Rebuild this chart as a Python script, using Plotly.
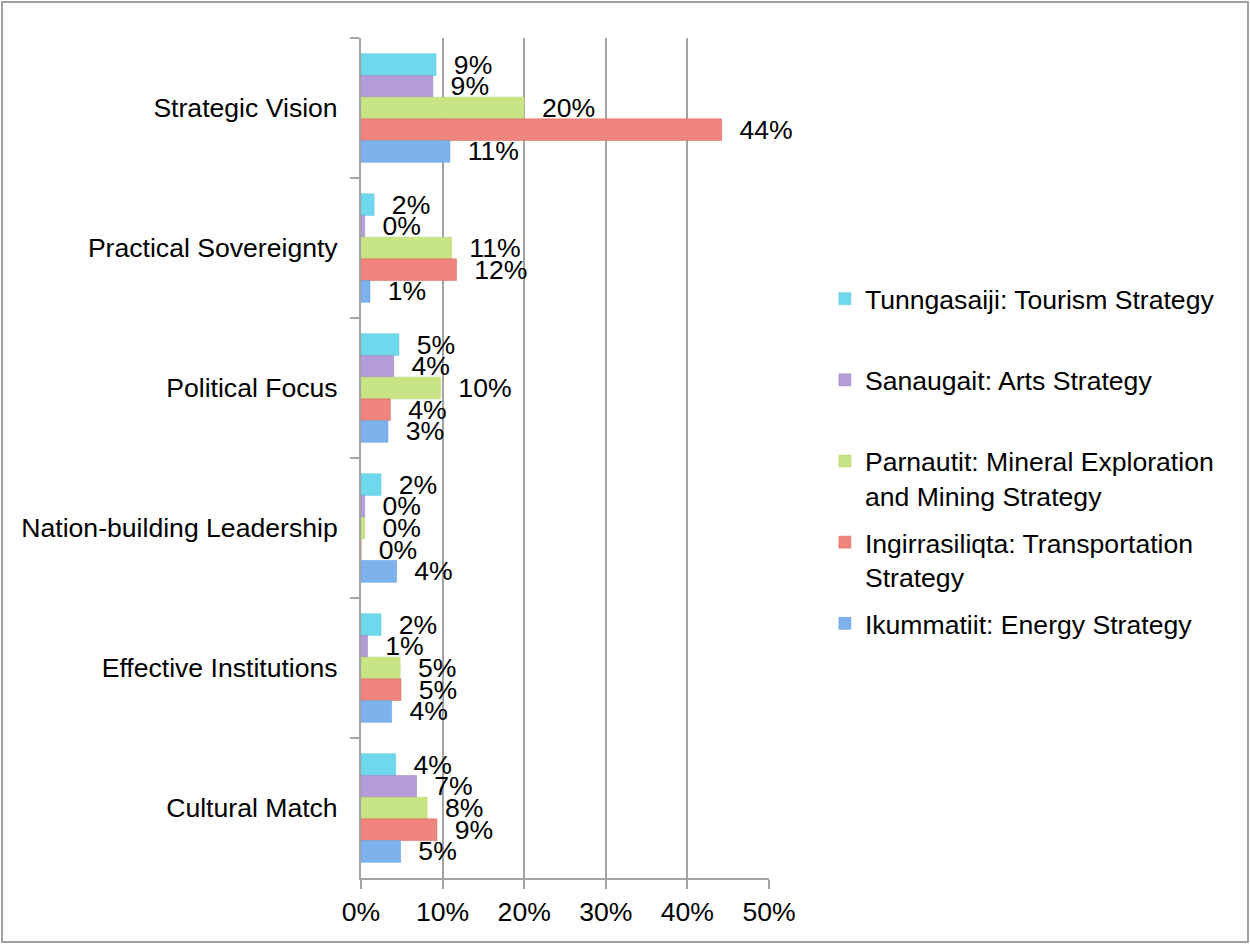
import plotly.graph_objects as go

categories = ["Strategic Vision", "Practical Sovereignty", "Political Focus",
              "Nation-building Leadership", "Effective Institutions", "Cultural Match"]

series_names = [
    "Tunngasaiji: Tourism Strategy",
    "Sanaugait: Arts Strategy",
    "Parnautit: Mineral Exploration<br>and Mining Strategy",
    "Ingirrasiliqta: Transportation<br>Strategy",
    "Ikummatiit: Energy Strategy",
]

tourism = [9.2, 1.6, 4.65, 2.45, 2.45, 4.25]
arts = [8.8, 0.45, 4.0, 0.45, 0.8, 6.8]
mineral = [20.0, 11.1, 9.75, 0.45, 4.8, 8.1]
transport = [44.2, 11.7, 3.6, 0.0, 4.9, 9.3]
energy = [10.9, 1.1, 3.3, 4.35, 3.75, 4.85]

series_values = [tourism, arts, mineral, transport, energy]
colors = ["#6FD8EC", "#B39CD8", "#C8E585", "#EF857D", "#7DB2EC"]
line_colors = ["#52C6DE", "#9780C0", "#AFD264", "#DC6058", "#5C9ADD"]

x_ticks = [0, 10, 20, 30, 40, 50]
x_tick_labels = ["0%", "10%", "20%", "30%", "40%", "50%"]

FONT = "Liberation Sans, Arial, Helvetica, sans-serif"
FS = 26.6

fig = go.Figure()
for name, vals, c, lc in zip(series_names, series_values, colors, line_colors):
    legend_name = name if "<br>" in name else name + "<br>\u00a0"
    fig.add_trace(go.Bar(
        y=categories, x=vals, orientation="h", name=legend_name,
        marker=dict(color=c, line=dict(color=lc, width=0.5)),
        text=["\u00a0\u00a0" + f"{round(v)}%" for v in vals],
        textposition="outside", constraintext="none", cliponaxis=False,
        textfont=dict(family=FONT, size=FS, color="#000000"),
        legendgroup=name,
    ))

fig.update_layout(
    width=1250, height=945,
    margin=dict(l=361, r=481, t=38, b=67),
    paper_bgcolor="white", plot_bgcolor="white",
    barmode="group", bargap=0.225, bargroupgap=0,
    font=dict(family=FONT, size=FS, color="#000000"),
    showlegend=True,
    legend=dict(
        x=1.137, xanchor="left", y=0.718, yanchor="top",
        font=dict(family=FONT, size=FS, color="#000000"),
        traceorder="grouped", tracegroupgap=9, valign="top",
        bgcolor="rgba(0,0,0,0)",
    ),
    xaxis=dict(
        range=[0, 50], tickvals=x_ticks, ticktext=x_tick_labels,
        showgrid=True, gridcolor="#A3A3A3", gridwidth=2,
        showline=True, linecolor="#A3A3A3", linewidth=2,
        ticks="outside", ticklen=9, tickcolor="#A3A3A3", tickwidth=2,
        zeroline=False, tickfont=dict(family=FONT, size=FS),
    ),
    yaxis=dict(
        autorange="reversed", type="category",
        showline=True, linecolor="#A3A3A3", linewidth=2,
        ticks="outside", ticklen=9, tickcolor="#A3A3A3", tickwidth=2,
        tickson="boundaries", showgrid=False, ticklabelstandoff=16,
        tickfont=dict(family=FONT, size=FS),
    ),
    shapes=[dict(
        type="rect", xref="paper", yref="paper",
        x0=(2 - 361) / 408, x1=(1248 - 361) / 408,
        y0=(878 - 942) / 840, y1=(878 - 2) / 840,
        line=dict(color="#A0A0A0", width=2), fillcolor="rgba(0,0,0,0)",
        layer="below",
    )],
)

fig.write_html("out.html", config={"displayModeBar": False},
               post_script="document.body.style.margin='0';")
